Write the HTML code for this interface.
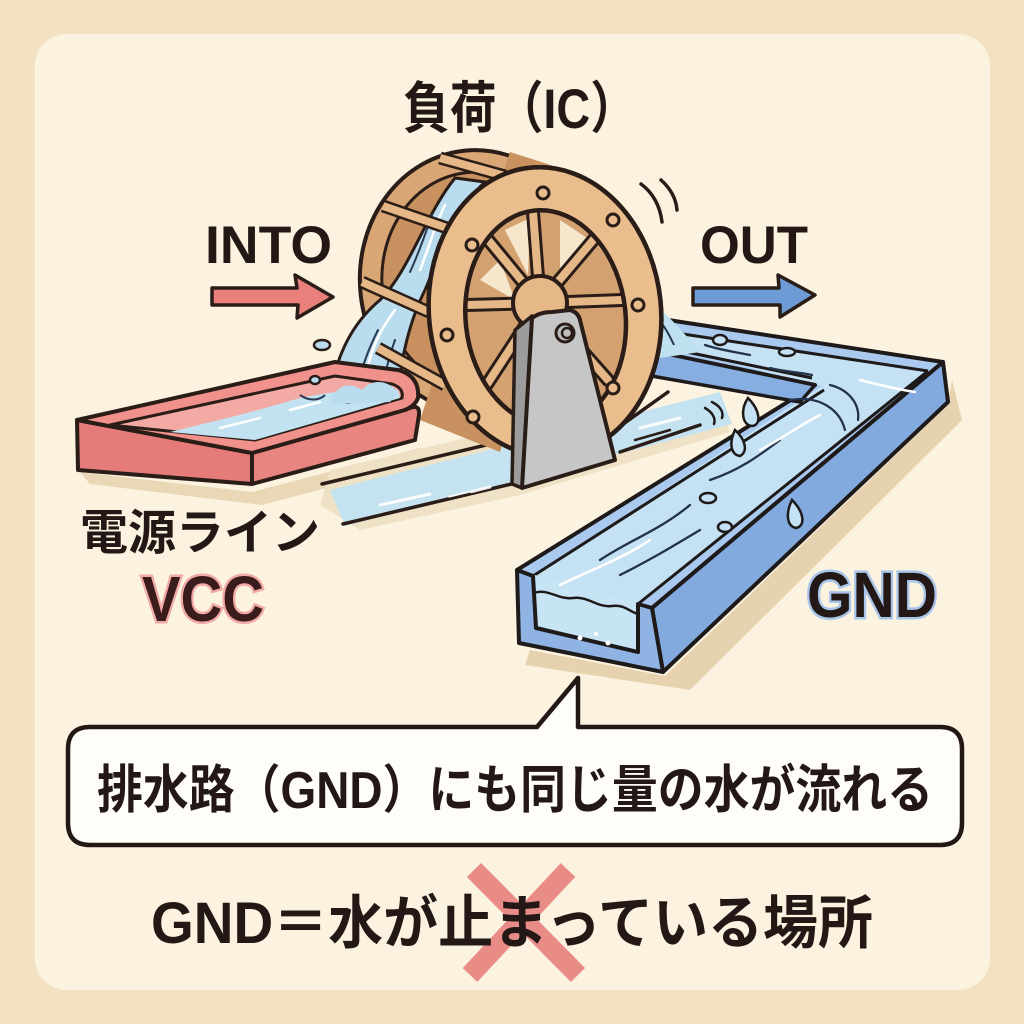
<!DOCTYPE html>
<html><head><meta charset="utf-8"><style>
html,body{margin:0;padding:0;background:#f3e2c1;}
svg{display:block;}
text{font-family:"Liberation Sans","Noto Sans CJK JP",sans-serif;}
</style></head><body>
<svg width="1024" height="1024" viewBox="0 0 1024 1024" xmlns="http://www.w3.org/2000/svg">
<rect x="0" y="0" width="1024" height="1024" fill="#f3e2c1"/>
<rect x="35" y="34" width="955" height="956" rx="32" fill="#fbf3e0"/>

<!-- floor shadows -->
<polygon points="80,472 252,492 420,448 440,458 262,505 90,484" fill="#e9d7b5"/>
<polygon points="952,380 962,420 690,690 525,665 530,650 665,676 948,405" fill="#e6d2ae"/>
<polygon points="330,470 500,430 640,420 720,400 730,432 520,495 360,530 320,505" fill="#efe1c5"/>

<!-- floor stream -->
<polygon points="330,490 720,392 732,424 345,526" fill="#c4e2f0"/>
<g stroke="#2a1d18" stroke-width="3.5" fill="none" stroke-linecap="round">
<line x1="322" y1="484" x2="520" y2="437"/>
<line x1="343" y1="524" x2="520" y2="482"/>
<line x1="612" y1="432" x2="668" y2="392"/>
<line x1="620" y1="452" x2="700" y2="425"/>
</g>
<g stroke="#ffffff" stroke-width="3" stroke-linecap="round" opacity="0.9">
<line x1="380" y1="505" x2="430" y2="494"/>
<line x1="450" y1="497" x2="490" y2="487"/>
<line x1="640" y1="428" x2="680" y2="418"/>
</g>
<g stroke="#2a1d18" stroke-width="2.5" stroke-linecap="round">
<line x1="420" y1="506" x2="470" y2="494"/>
<line x1="635" y1="440" x2="670" y2="430"/>
</g>

<!-- blue trough -->
<polygon points="655,318 943,362 652,608 517,570 815,385 648,350" fill="#a9c9ee"/>
<polygon points="663,331 926,371 640,604 533,576 822,386 650,343" fill="#c4e2f3"/>
<path d="M517,570 L815,385 L648,350 L655,318 L943,362 L652,608" fill="none" stroke="#1f1a1a" stroke-width="4" stroke-linejoin="round"/>
<polygon points="648,350 815,385 800,402 640,374" fill="#86aee0" stroke="#1f1a1a" stroke-width="3.5" stroke-linejoin="round"/>
<line x1="648" y1="344" x2="812" y2="378" stroke="#1f1a1a" stroke-width="3"/>
<line x1="533" y1="576" x2="824" y2="390" stroke="#1f1a1a" stroke-width="3"/>
<line x1="663" y1="331" x2="928" y2="371" stroke="#1f1a1a" stroke-width="3"/>
<line x1="928" y1="371" x2="638" y2="604" stroke="#1f1a1a" stroke-width="3"/>
<polygon points="943,362 948,402 663,672 652,608" fill="#82aade" stroke="#1f1a1a" stroke-width="4" stroke-linejoin="round"/>
<!-- front end U -->
<polygon points="531,574 640,603 638,652 536,628" fill="#c6e4f4"/>
<path d="M517,570 L533,576 L536,628 L638,652 L638,604 L652,608 L663,672 L519,643 Z" fill="#8fb4e4" stroke="#1f1a1a" stroke-width="4" stroke-linejoin="round"/>
<path d="M534,593 C548,588 558,600 573,598 C588,596 598,608 612,606 C624,604 630,612 638,614" fill="none" stroke="#1f1a1a" stroke-width="2.5"/>
<g fill="#ffffff"><circle cx="580" cy="638" r="2.5"/><circle cx="608" cy="643" r="2.5"/><circle cx="596" cy="634" r="2"/></g>
<g fill="none" stroke="#24324a" stroke-width="2.3" stroke-linecap="round">
<path d="M600,560 C630,540 660,530 690,505"/>
<path d="M620,575 C650,560 670,548 700,530"/>
<path d="M710,480 C740,470 760,455 780,440"/>
<path d="M790,400 C820,395 840,410 845,430"/>
<path d="M830,385 C850,390 860,405 858,420"/>
<path d="M705,345 C720,350 735,352 750,355"/>
<path d="M770,368 C785,372 800,372 812,375"/>
</g>
<g fill="none" stroke="#ffffff" stroke-width="2.5" stroke-linecap="round">
<path d="M560,585 C590,570 620,560 650,540"/>
<path d="M760,450 C780,440 800,425 820,415"/>
<path d="M860,380 C880,385 900,390 915,392"/>
</g>
<g fill="#c4e2f3" stroke="#1f1a1a" stroke-width="2.5">
<path d="M792,500 C786,512 786,526 796,528 C806,526 804,512 792,500 Z"/>
<path d="M748,398 C740,410 742,425 752,426 C762,425 760,410 748,398 Z"/>
<path d="M735,430 C728,445 732,455 740,456 C748,452 746,440 735,430 Z"/>
<ellipse cx="708" cy="498" rx="8" ry="5"/>
<ellipse cx="725" cy="527" rx="7" ry="5"/>
<ellipse cx="787" cy="352" rx="8" ry="4"/>
<ellipse cx="720" cy="340" rx="7" ry="5"/>
</g>
<g fill="none" stroke="#1f1a1a" stroke-width="2.5" stroke-linecap="round">
<path d="M705,408 C712,412 716,418 714,424"/>
<path d="M712,402 C720,406 724,412 722,418"/>
</g>

<path d="M640,300 C660,305 672,320 690,340 L700,352 L660,358 C650,345 645,330 640,320 Z" fill="#bfe0ef"/>
<path d="M652,312 C662,322 668,332 674,345" fill="none" stroke="#24324a" stroke-width="2"/>

<!-- back wheel -->
<g transform="rotate(-6 478 282)">
<ellipse cx="478" cy="282" rx="118" ry="132" fill="#d9a676" stroke="#2a1d18" stroke-width="4"/>
<ellipse cx="478" cy="282" rx="96" ry="110" fill="#c8915f" stroke="#2a1d18" stroke-width="3"/>
</g>
<polygon points="510,152 585,176 500,452 420,420" fill="#c8915f"/>
<path d="M455,178 C425,215 410,270 380,300 C350,325 335,360 330,398 L398,398 C400,360 410,320 425,290 C440,255 455,210 485,182 Z" fill="#b9dcee" stroke="#2a1d18" stroke-width="3"/>
<g stroke="#ffffff" stroke-width="2.5" fill="none" stroke-linecap="round">
<path d="M445,205 C435,225 428,250 420,270"/>
<path d="M395,310 C380,330 370,350 365,380"/>
</g>
<g stroke="#2a3a55" stroke-width="2" fill="none" stroke-linecap="round">
<path d="M432,215 C425,235 418,255 410,272"/>
<path d="M378,330 C368,350 360,370 358,390"/>
<path d="M395,340 C388,360 384,375 384,392"/>
</g>
<g stroke-linecap="butt">
<g stroke="#2a1d18" stroke-width="13">
<line x1="429" y1="312" x2="362" y2="282"/>
<line x1="450" y1="229" x2="383" y2="206"/>
<line x1="505" y1="176" x2="440" y2="158"/>
<line x1="445" y1="385" x2="378" y2="348"/>
</g>
<g stroke="#e7b887" stroke-width="8">
<line x1="429" y1="312" x2="362" y2="282"/>
<line x1="450" y1="229" x2="383" y2="206"/>
<line x1="505" y1="176" x2="440" y2="158"/>
<line x1="445" y1="385" x2="378" y2="348"/>
</g>
</g>
<polygon points="355,415 372,420 378,445 360,440" fill="#9b9b9b" stroke="#2a1d18" stroke-width="3"/>

<!-- red trough -->
<polygon points="77,420 252,453 252,484 78,470" fill="#e57c79" stroke="#2a1d18" stroke-width="4" stroke-linejoin="round"/>
<path d="M252,453 L410,408 Q420,404 419,415 L415,440 L252,484 Z" fill="#e98581" stroke="#2a1d18" stroke-width="4" stroke-linejoin="round"/>
<path d="M77,420 L335,362 L398,370 Q420,376 418,398 Q415,406 405,410 L252,453 Z" fill="#f0918c" stroke="#2a1d18" stroke-width="4" stroke-linejoin="round"/>
<path d="M110,425 L335,376 L392,384 Q404,388 402,398 L255,440 Z" fill="#f4aaa4" stroke="#2a1d18" stroke-width="3" stroke-linejoin="round"/>
<path d="M170,432 C220,420 260,410 300,398 C330,392 360,388 398,390 L400,398 L255,440 Z" fill="#c3e2f1"/>
<g stroke="#ffffff" stroke-width="2.5" stroke-linecap="round"><line x1="220" y1="428" x2="260" y2="418"/><line x1="290" y1="410" x2="320" y2="402"/></g>
<g fill="none" stroke="#2a3a55" stroke-width="2"><path d="M300,395 C310,402 320,400 325,395"/><path d="M340,398 C345,405 352,404 356,398"/></g>
<path d="M332,396 C340,385 350,382 362,390 C372,378 388,380 398,392 L390,402 L330,404 Z" fill="#b9dcee"/>
<g fill="#b9dcee" stroke="#2a1d18" stroke-width="2.5">
<ellipse cx="322" cy="345" rx="8" ry="5"/>
<ellipse cx="315" cy="380" rx="5" ry="4"/>
</g>

<!-- front wheel -->
<g transform="rotate(-6 545 312)">
<ellipse cx="545" cy="312" rx="116" ry="145" fill="#e9bd8c" stroke="#2a1d18" stroke-width="4.5"/>
<ellipse cx="545" cy="318" rx="80" ry="108" fill="#d4a271" stroke="#2a1d18" stroke-width="4"/>
</g>
<g fill="#f6e6cc">
<polygon points="505,230 530,218 528,275"/>
<polygon points="560,220 590,240 560,280"/>
<polygon points="480,280 500,260 515,300"/>
</g>
<g stroke-linecap="round">
<g stroke="#2a1d18" stroke-width="14">
<line x1="540" y1="303" x2="533" y2="212"/>
<line x1="540" y1="303" x2="600" y2="232"/>
<line x1="540" y1="303" x2="622" y2="300"/>
<line x1="540" y1="303" x2="608" y2="380"/>
<line x1="540" y1="303" x2="545" y2="420"/>
<line x1="540" y1="303" x2="480" y2="395"/>
<line x1="540" y1="303" x2="466" y2="305"/>
<line x1="540" y1="303" x2="480" y2="230"/>
</g>
<g stroke="#e7b887" stroke-width="8">
<line x1="540" y1="303" x2="533" y2="212"/>
<line x1="540" y1="303" x2="600" y2="232"/>
<line x1="540" y1="303" x2="622" y2="300"/>
<line x1="540" y1="303" x2="608" y2="380"/>
<line x1="540" y1="303" x2="545" y2="420"/>
<line x1="540" y1="303" x2="480" y2="395"/>
<line x1="540" y1="303" x2="466" y2="305"/>
<line x1="540" y1="303" x2="480" y2="230"/>
</g>
</g>
<g transform="rotate(-6 545 312)">
<path fill-rule="evenodd" d="M429,312 A116,145 0 1,0 661,312 A116,145 0 1,0 429,312 Z M465,318 A80,108 0 1,0 625,318 A80,108 0 1,0 465,318 Z" fill="#e9bd8c" stroke="#2a1d18" stroke-width="4.5"/>
</g>
<circle cx="540" cy="303" r="27" fill="#e7b887" stroke="#2a1d18" stroke-width="4"/>
<g fill="#e9bd8c" stroke="#2a1d18" stroke-width="3">
<circle cx="543" cy="193" r="6"/>
<circle cx="613" cy="220" r="6"/>
<circle cx="638" cy="305" r="6"/>
<circle cx="613" cy="388" r="6"/>
<circle cx="473" cy="417" r="6"/>
<circle cx="447" cy="335" r="6"/>
<circle cx="472" cy="245" r="6"/>
</g>
<g fill="none" stroke="#2a1d18" stroke-width="3.5" stroke-linecap="round">
<path d="M641,184 C652,192 660,205 662,222"/>
<path d="M661,180 C670,188 676,198 677,210"/>
</g>

<!-- support -->
<polygon points="515,330 532,316 522,488 512,484" fill="#9c9c9c" stroke="#2a1d18" stroke-width="3.5" stroke-linejoin="round"/>
<path d="M532,318 Q540,312 552,312 L570,310 Q578,312 580,320 L615,460 L522,488 Z" fill="#c6c6c6" stroke="#2a1d18" stroke-width="4" stroke-linejoin="round"/>
<circle cx="565" cy="333" r="9" fill="#bdbdbd" stroke="#2a1d18" stroke-width="3"/>
<circle cx="567" cy="333" r="5" fill="none" stroke="#2a1d18" stroke-width="2.5"/>

<!-- arrows -->
<path d="M212,288 L297,288 L295,275 L333,297 L297,318 L298,305 L212,305 Z" fill="#e9807c" stroke="#2a1d18" stroke-width="3.5" stroke-linejoin="round"/>
<path d="M693,288 L779,288 L778,275 L815,295 L780,317 L780,305 L693,305 Z" fill="#6d9bd6" stroke="#2a1d18" stroke-width="3.5" stroke-linejoin="round"/>

<!-- labels -->
<g fill="#231815" font-weight="700">
<text x="403" y="128" font-size="56" textLength="234" lengthAdjust="spacingAndGlyphs">負荷（IC）</text>
<text x="205" y="263" font-size="53" textLength="127" lengthAdjust="spacingAndGlyphs">INTO</text>
<text x="700" y="263" font-size="53" textLength="108" lengthAdjust="spacingAndGlyphs">OUT</text>
<text x="80" y="549" font-size="48" textLength="240" lengthAdjust="spacingAndGlyphs">電源ライン</text>
</g>
<text x="142" y="621" font-size="64" font-weight="700" fill="#3a1c1c" stroke="#f2aaa6" stroke-width="5" paint-order="stroke" textLength="122" lengthAdjust="spacingAndGlyphs">VCC</text>
<text x="807" y="617" font-size="64" font-weight="700" fill="#231815" stroke="#a9c6ea" stroke-width="5" paint-order="stroke" textLength="130" lengthAdjust="spacingAndGlyphs">GND</text>

<!-- bubble -->
<path d="M90,727 L537,727 L578,678 L578,727 L940,727 Q962,727 962,749 L962,823 Q962,845 940,845 L90,845 Q68,845 68,823 L68,749 Q68,727 90,727 Z" fill="#fffdf8" stroke="#231815" stroke-width="4.5" stroke-linejoin="round"/>
<text x="97" y="808" font-size="52" font-weight="700" fill="#231815" textLength="836" lengthAdjust="spacingAndGlyphs">排水路（GND）にも同じ量の水が流れる</text>

<!-- red X -->
<g stroke="#e8807d" stroke-width="20" stroke-linecap="butt" opacity="0.9">
<line x1="474" y1="870" x2="578" y2="975"/>
<line x1="568" y1="870" x2="470" y2="975"/>
</g>
<text x="151" y="943" font-size="58" font-weight="700" fill="#231815" textLength="722" lengthAdjust="spacingAndGlyphs">GND＝水が止まっている場所</text>
</svg>
</body></html>
